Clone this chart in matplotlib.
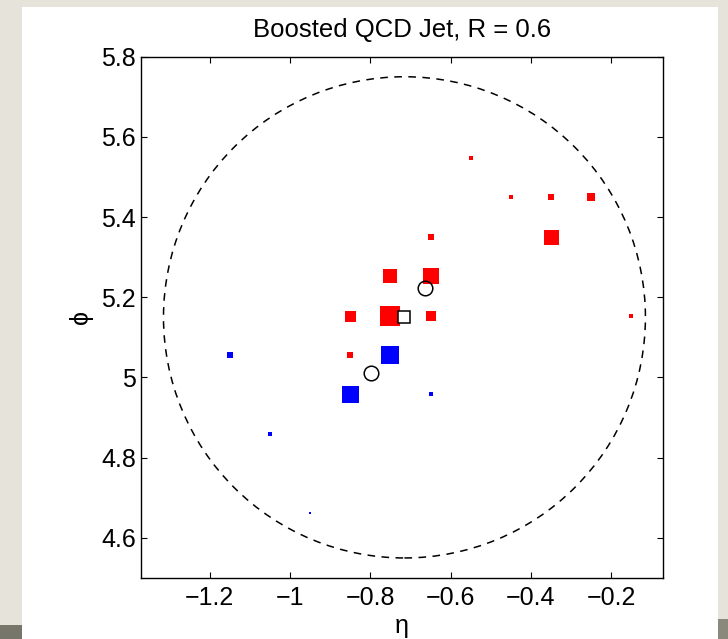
import matplotlib
matplotlib.use("Agg")
import matplotlib.pyplot as plt
from matplotlib.patches import Circle, Rectangle

plt.rcParams['font.family'] = ['Liberation Sans', 'DejaVu Sans']

# Calorimeter cells: (eta, phi) and cell transverse momentum (marker side)
eta_red = [-0.75, -0.75, -0.65, -0.85, -0.65, -0.85, -0.65, -0.55, -0.45, -0.35, -0.25, -0.35, -0.15]
phi_red = [5.154, 5.252, 5.252, 5.154, 5.154, 5.056, 5.350, 5.547, 5.449, 5.449, 5.449, 5.350, 5.154]
pt_red = [20.0, 14.5, 15.5, 11.0, 10.5, 6.5, 6.5, 3.5, 4.0, 6.5, 8.3, 15.0, 4.7]

eta_blue = [-0.75, -0.85, -0.65, -1.15, -1.05, -0.95]
phi_blue = [5.056, 4.958, 4.958, 5.056, 4.859, 4.663]
pt_blue = [18.5, 17.0, 3.7, 5.6, 4.0, 2.2]

# Subjet axes and jet axis
eta_sub = [-0.665, -0.799]
phi_sub = [5.223, 5.011]
eta_jet = -0.715
phi_jet = 5.150
R = 0.6

x_ticks = [-1.2, -1.0, -0.8, -0.6, -0.4, -0.2]
x_labels = ['\u22121.2', '\u22121', '\u22120.8', '\u22120.6', '\u22120.4', '\u22120.2']
y_ticks = [4.6, 4.8, 5.0, 5.2, 5.4, 5.6, 5.8]
y_labels = ['4.6', '4.8', '5', '5.2', '5.4', '5.6', '5.8']

W, H = 728, 639
fig = plt.figure(figsize=(W / 100, H / 100), dpi=100)
fig.patch.set_facecolor('#e6e4da')

# white page
fig.patches.append(Rectangle((22 / W, 0), (718 - 22) / W, (639 - 7) / H,
                             transform=fig.transFigure, facecolor='white',
                             edgecolor='none', zorder=-2))
# shadows at the lower corners
fig.patches.append(Rectangle((0, 0), 22 / W, 14 / H, transform=fig.transFigure,
                             facecolor='#77766a', edgecolor='none', zorder=-2))
fig.patches.append(Rectangle((718 / W, 0), 10 / W, 20 / H, transform=fig.transFigure,
                             facecolor='#8a897c', edgecolor='none', zorder=-2))

ax = fig.add_axes([141 / W, (639 - 578) / H, 522.3 / W, 521.3 / H])
ax.set_zorder(1)
ax.set_facecolor('white')

ax.add_patch(Circle((eta_jet, phi_jet), R, fill=False, edgecolor='black',
                    linewidth=1.1, linestyle=(0, (5, 4.2)), zorder=1))

s = 0.72  # px -> pt
for e, p, w in zip(eta_red, phi_red, pt_red):
    ax.plot(e, p, marker='s', linestyle='none', markersize=w * s,
            markerfacecolor='#ff0000', markeredgewidth=0, zorder=2)
for e, p, w in zip(eta_blue, phi_blue, pt_blue):
    ax.plot(e, p, marker='s', linestyle='none', markersize=w * s,
            markerfacecolor='#0000ff', markeredgewidth=0, zorder=2)

ax.plot(eta_sub, phi_sub, marker='o', linestyle='none', markersize=10.5,
        markerfacecolor='none', markeredgecolor='black', markeredgewidth=1.1, zorder=3)
ax.plot([eta_jet], [phi_jet], marker='s', linestyle='none', markersize=8.5,
        markerfacecolor='white', markeredgecolor='black', markeredgewidth=1.1, zorder=3)

ax.set_xlim(-1.371, -0.0705)
ax.set_ylim(4.5, 5.8)
ax.set_xticks(x_ticks)
ax.set_xticklabels(x_labels)
ax.set_yticks(y_ticks)
ax.set_yticklabels(y_labels)
ax.tick_params(direction='in', length=4.5, width=0.8, top=True, right=True,
               labelsize=18, colors='black')
ax.tick_params(axis='x', pad=6)
ax.tick_params(axis='y', pad=3.5)
for sp in ax.spines.values():
    sp.set_linewidth(1.0)

ax.set_title('Boosted QCD Jet, R = 0.6', fontsize=18.5, pad=14)
ax.set_xlabel('\u03b7', fontsize=18, labelpad=3)
ax.set_ylabel('\u03d5', fontsize=18, labelpad=6)

fig.savefig('out.png', dpi=100, facecolor=fig.get_facecolor())
